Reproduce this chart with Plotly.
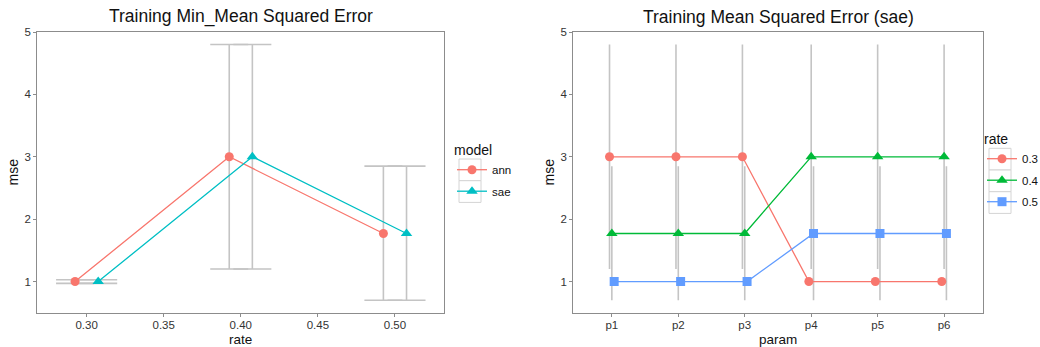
import plotly.graph_objects as go

# ---- data -------------------------------------------------------------
rates = [0.3, 0.4, 0.5]
ann_mse = [1.0, 3.0, 1.77]
sae_mse = [1.0, 3.0, 1.77]
err_low = [0.97, 1.2, 0.7]
err_high = [1.03, 4.8, 2.85]

params = ["p1", "p2", "p3", "p4", "p5", "p6"]
mse_r03 = [3.0, 3.0, 3.0, 1.0, 1.0, 1.0]
mse_r04 = [1.77, 1.77, 1.77, 3.0, 3.0, 3.0]
mse_r05 = [1.0, 1.0, 1.0, 1.77, 1.77, 1.77]
rate_labels = ["0.3", "0.4", "0.5"]

# interval for each mean level (shared by both panels)
interval = {m: (lo, hi) for m, lo, hi in zip(ann_mse, err_low, err_high)}

RED, CYAN = "#F8766D", "#00BFC4"
HUE3 = ["#F8766D", "#00BA38", "#619CFF"]
ERR = "#C4C4C4"
FONT = "Liberation Sans, Arial, sans-serif"

fig = go.Figure()

# ---- left panel: min MSE by rate, dodged by model ----------------------
left_dodge = 0.0075
models = [("ann", ann_mse, -left_dodge, RED, "circle"),
          ("sae", sae_mse, left_dodge, CYAN, "triangle-up")]

for name, ys, off, col, sym in models:
    xs = [r + off for r in rates]
    fig.add_trace(go.Scatter(
        x=xs, y=ys, mode="markers", xaxis="x", yaxis="y",
        marker=dict(size=1, color="rgba(0,0,0,0)"),
        error_y=dict(type="data", symmetric=False,
                     array=[h - y for h, y in zip(err_high, ys)],
                     arrayminus=[y - l for l, y in zip(err_low, ys)],
                     color=ERR, thickness=1.6, width=19),
        showlegend=False, hoverinfo="skip"))

for name, ys, off, col, sym in models:
    xs = [r + off for r in rates]
    fig.add_trace(go.Scatter(
        x=xs, y=ys, mode="lines+markers", name=name, xaxis="x", yaxis="y",
        line=dict(color=col, width=1.3),
        marker=dict(color=col, size=10 if sym == "triangle-up" else 9, symbol=sym),
        legend="legend", legendgroup=name))

# ---- right panel: MSE by parameter set, dodged by rate ------------------
pos = list(range(1, len(params) + 1))
right_dodge = 0.035
series = [mse_r03, mse_r04, mse_r05]
symbols = ["circle", "triangle-up", "square"]
offsets = [-right_dodge, 0.0, right_dodge]

for ys, off in zip(series, offsets):
    xs = [p + off for p in pos]
    lo = [interval[y][0] for y in ys]
    hi = [interval[y][1] for y in ys]
    fig.add_trace(go.Scatter(
        x=xs, y=ys, mode="markers", xaxis="x2", yaxis="y2",
        marker=dict(size=1, color="rgba(0,0,0,0)"),
        error_y=dict(type="data", symmetric=False,
                     array=[h - y for h, y in zip(hi, ys)],
                     arrayminus=[y - l for l, y in zip(lo, ys)],
                     color=ERR, thickness=1.6, width=0),
        showlegend=False, hoverinfo="skip"))

for ys, off, col, sym, lab in zip(series, offsets, HUE3, symbols, rate_labels):
    xs = [p + off for p in pos]
    fig.add_trace(go.Scatter(
        x=xs, y=ys, mode="lines+markers", name=lab, xaxis="x2", yaxis="y2",
        line=dict(color=col, width=1.3),
        marker=dict(color=col, size=10 if sym == "triangle-up" else 9, symbol=sym),
        legend="legend2", legendgroup=lab))

# ---- layout -----------------------------------------------------------
W, H = 1040, 347
top, bottom = 31.7, 313.3
ydom = [1 - bottom / H, 1 - top / H]
left_px = [37.3, 444.3]
right_px = [573.3, 983.3]

axis_common = dict(showline=True, mirror=True, linecolor="#8C8C8C", linewidth=1,
                   showgrid=False, zeroline=False, ticks="outside", ticklen=3,
                   tickcolor="#8C8C8C", tickfont=dict(size=11.5, color="#333333"))

legend_common = dict(xref="container", yref="container", xanchor="left",
                     yanchor="top", font=dict(size=11.5),
                     bgcolor="rgba(0,0,0,0)", tracegroupgap=2.5, itemwidth=30)

# legend placement (px) and the key boxes drawn behind each entry
leg1_x, leg1_y = 452, 137
leg2_x, leg2_y = 982, 126
key_half_w = 11
leg1_rows = [(159.0, 180.7), (180.7, 202.4)]
leg2_rows = [(148.3, 170.0), (170.0, 191.7), (191.7, 213.4)]


def key_boxes(cx, rows):
    return [dict(type="rect", xref="paper", yref="paper", layer="below",
                 x0=(cx - key_half_w) / W, x1=(cx + key_half_w) / W,
                 y0=1 - r1 / H, y1=1 - r0 / H,
                 line=dict(color="#D4D4D4", width=1), fillcolor="white")
            for r0, r1 in rows]


def text_at(text, x, y, size, angle=0):
    return dict(text=text, x=x / W, y=1 - y / H, xref="paper", yref="paper",
                showarrow=False, xanchor="center", yanchor="middle",
                textangle=angle, font=dict(size=size))


fig.update_layout(
    width=W, height=H,
    margin=dict(l=0, r=0, t=0, b=0, autoexpand=False),
    paper_bgcolor="white", plot_bgcolor="white",
    font=dict(family=FONT, color="#111111"),
    xaxis=dict(domain=[left_px[0] / W, left_px[1] / W], range=[0.268, 0.532],
               tickvals=[0.30, 0.35, 0.40, 0.45, 0.50], tickformat=".2f",
               ticklabelstandoff=-2, anchor="y", **axis_common),
    yaxis=dict(domain=ydom, range=[0.491, 5.005], tickvals=[1, 2, 3, 4, 5],
               anchor="x", **axis_common),
    xaxis2=dict(domain=[right_px[0] / W, right_px[1] / W], range=[0.42, 6.59],
                tickvals=pos, ticktext=params,
                ticklabelstandoff=-2, anchor="y2", **axis_common),
    yaxis2=dict(domain=ydom, range=[0.491, 5.005], tickvals=[1, 2, 3, 4, 5],
                anchor="x2", **axis_common),
    legend=dict(x=leg1_x / W, y=1 - leg1_y / H,
                title=dict(text="model", font=dict(size=14)), **legend_common),
    legend2=dict(x=leg2_x / W, y=1 - leg2_y / H,
                 title=dict(text="rate", font=dict(size=14)), **legend_common),
    shapes=key_boxes(leg1_x + 18, leg1_rows) + key_boxes(leg2_x + 18, leg2_rows),
    annotations=[
        text_at("Training Min_Mean Squared Error", sum(left_px) / 2, 16.5, 17.5),
        text_at("Training Mean Squared Error (sae)", sum(right_px) / 2, 16.5, 17.5),
        text_at("rate", sum(left_px) / 2, 339, 13.5),
        text_at("param", sum(right_px) / 2, 339, 13.5),
        text_at("mse", 13, (top + bottom) / 2, 14, -90),
        text_at("mse", 549, (top + bottom) / 2, 14, -90),
    ],
)

fig.write_html("out.html")
